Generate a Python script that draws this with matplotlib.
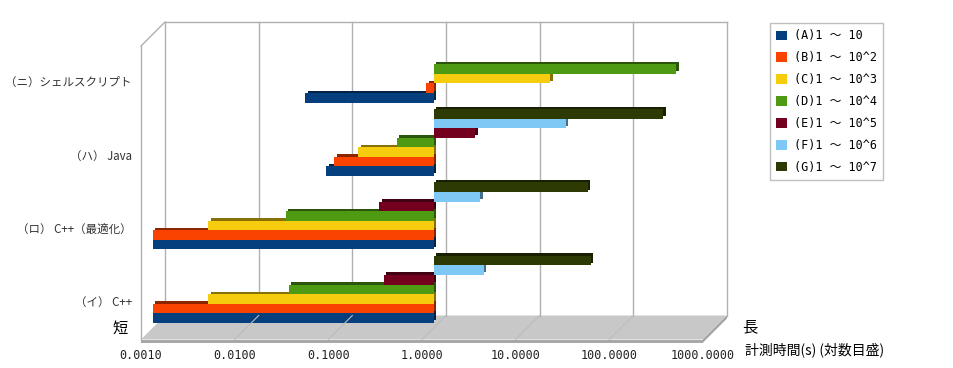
import numpy as np
import matplotlib
matplotlib.use('Agg')
import matplotlib.pyplot as plt
import matplotlib.colors as mcolors
from matplotlib.patches import Patch, Polygon
from matplotlib.lines import Line2D
from matplotlib.transforms import ScaledTranslation, IdentityTransform

# categories from bottom to top
categories = ['（イ） C++', '（ロ） C++（最適化）', '（ハ） Java', '（ニ）シェルスクリプト']
series_labels = ['(A)1 ～ 10', '(B)1 ～ 10^2', '(C)1 ～ 10^3', '(D)1 ～ 10^4',
                 '(E)1 ～ 10^5', '(F)1 ～ 10^6', '(G)1 ～ 10^7']
series_colors = ['#063F7E', '#FA4300', '#F5CC0E', '#4E9A13', '#740020', '#7EC8F6', '#2E3A04']

# measured time (s) per category, nan = not measured
times_a = [0.001, 0.001, 0.071, 0.042]
times_b = [0.001, 0.001, 0.086, 0.83]
times_c = [0.0039, 0.0039, 0.156, 17.4]
times_d = [0.028, 0.026, 0.40, 385]
times_e = [0.29, 0.26, 2.76, np.nan]
times_f = [3.4, 3.1, 25.6, np.nan]
times_g = [47, 44, 280, np.nan]
all_times = [times_a, times_b, times_c, times_d, times_e, times_f, times_g]

tick_values = [0.001, 0.01, 0.1, 1, 10, 100, 1000]
tick_labels = ['0.0010', '0.0100', '0.1000', '1.0000', '10.0000', '100.0000', '1000.0000']

cjk = ['Noto Sans CJK JP', 'DejaVu Sans']
mono = ['DejaVu Sans Mono', 'Noto Sans CJK JP']

W, H = 954, 368
fig = plt.figure(figsize=(W / 100, H / 100), dpi=100)
# axes = the middle depth plane where the bars sit
ax = fig.add_axes([153 / W, (H - 327.5) / H, 562 / W, 293.5 / H])
ax.set_xscale('log')
ax.set_xlim(0.001, 1000)
ax.set_ylim(0, 4)
for s in ax.spines.values():
    s.set_visible(False)
ax.patch.set_visible(False)

D = 12  # depth offset in px, front/back from the bar plane
back = ax.transData + ScaledTranslation(D / 100, D / 100, fig.dpi_scale_trans)
front = ax.transData + ScaledTranslation(-D / 100, -D / 100, fig.dpi_scale_trans)
shade = ax.transData + ScaledTranslation(2.5 / 100, 2.5 / 100, fig.dpi_scale_trans)
ident = IdentityTransform()


def disp(x, y, off=0):
    px, py = ax.transData.transform((x, y))
    return px + off, py + off


# floor
fl, fr = disp(0.001, 0, -D), disp(1000, 0, -D)
bl, br = disp(0.001, 0, D), disp(1000, 0, D)
t = 3
fig.add_artist(Polygon([fl, fr, br, bl], closed=True, facecolor='#C8C8C8',
                       edgecolor='none', transform=ident, zorder=0))
fig.add_artist(Polygon([fl, fr, (fr[0], fr[1] - t), (fl[0], fl[1] - t)], closed=True,
                       facecolor='#A8A8A8', edgecolor='none', transform=ident, zorder=0))
fig.add_artist(Polygon([fr, br, (br[0], br[1] - t), (fr[0], fr[1] - t)], closed=True,
                       facecolor='#A0A0A0', edgecolor='none', transform=ident, zorder=0))
for v in tick_values[1:-1]:
    p0, p1 = disp(v, 0, -D), disp(v, 0, D)
    fig.add_artist(Line2D([p0[0], p1[0]], [p0[1], p1[1]], color='#BCBCBC', lw=0.8,
                          transform=ident, zorder=0.5))

# back wall grid and frame
grid_c = '#B0B0B0'
for v in tick_values:
    ax.plot([v, v], [0, 4], color=grid_c, lw=1, transform=back, clip_on=False, zorder=0.6)
ax.plot([0.001, 1000], [4, 4], color=grid_c, lw=1, transform=back, clip_on=False, zorder=0.6)
# left wall
ax.plot([0.001, 0.001], [0, 4], color=grid_c, lw=1, transform=front, clip_on=False, zorder=0.6)
p0, p1 = disp(0.001, 4, -D), disp(0.001, 4, D)
fig.add_artist(Line2D([p0[0], p1[0]], [p0[1], p1[1]], color=grid_c, lw=1,
                      transform=ident, zorder=0.6))

# bars
slot = 0.1302
base = 0.065
ypos = np.arange(len(categories))
for k, (vals, col) in enumerate(zip(all_times, series_colors)):
    vals = np.array(vals, dtype=float)
    ok = ~np.isnan(vals)
    y = ypos[ok] + base + k * slot
    left = np.minimum(1, vals[ok])
    width = np.abs(vals[ok] - 1)
    dark = tuple(np.array(mcolors.to_rgb(col)) * 0.55)
    ax.barh(y, width, left=left, height=slot, align='edge', color=dark,
            transform=shade, zorder=2 + k * 0.1)
    ax.barh(y, width, left=left, height=slot, align='edge', color=col,
            zorder=2.05 + k * 0.1)

# ticks
ax.set_xticks(tick_values)
ax.set_xticklabels(tick_labels, fontfamily=mono, fontsize=8.5, color='#222222')
ax.xaxis.set_minor_locator(matplotlib.ticker.NullLocator())
ax.tick_params(axis='x', length=0, pad=7)
ax.set_yticks(ypos + base + 3.5 * slot)
ax.set_yticklabels(categories, fontfamily=cjk, fontsize=8.3, color='#333333')
ax.tick_params(axis='y', length=0, pad=6.5)
shift = ScaledTranslation(-D / 100, -D / 100, fig.dpi_scale_trans)
for lab in ax.get_xticklabels() + ax.get_yticklabels():
    lab.set_transform(lab.get_transform() + shift)

fig.text(120 / W, 1 - 328 / H, '短', fontfamily=cjk, fontsize=11, ha='center', va='center')
fig.text(750 / W, 1 - 327 / H, '長', fontfamily=cjk, fontsize=11, ha='center', va='center')
fig.text(745 / W, 1 - 350 / H, '計測時間(s) (対数目盛)', fontfamily=cjk, fontsize=10,
         ha='left', va='center')

handles = [Patch(facecolor=c, edgecolor='none') for c in series_colors]
leg = fig.legend(handles, series_labels, loc='upper left',
                 bbox_to_anchor=(770 / W, 1 - 23 / H), bbox_transform=fig.transFigure,
                 prop={'family': mono, 'size': 8.5}, frameon=True, fancybox=False,
                 borderaxespad=0, handlelength=0.9, handleheight=0.9, handletextpad=0.55,
                 labelspacing=0.75, borderpad=0.55)
leg.get_frame().set_edgecolor('#B0B0B0')
leg.get_frame().set_linewidth(1)

fig.savefig('out.png', dpi=100)
